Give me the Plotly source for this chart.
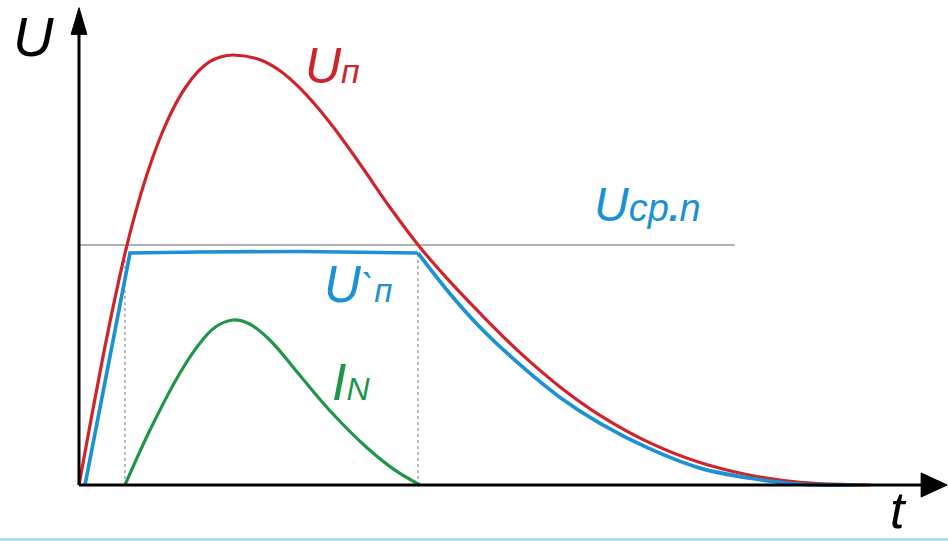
import plotly.graph_objects as go

# Overvoltage U_п (red): rise to the peak, then decay
t_up = [0.0, 0.15, 0.30, 0.45, 0.60, 0.75, 0.90, 1.05, 1.20, 1.35, 1.50, 1.65, 1.80, 1.95,
        2.291, 2.544, 2.797, 3.177, 3.557, 3.937, 4.316, 4.696, 5.076, 5.582, 6.089,
        6.595, 7.228, 7.861, 8.494, 9.127, 9.759, 10.013]
u_up = [0.0, 1.50, 2.95, 4.30, 5.52, 6.56, 7.44, 8.18, 8.78, 9.25, 9.60, 9.84, 9.96, 10.0,
        9.891, 9.635, 9.228, 8.426, 7.465, 6.453, 5.530, 4.728, 3.995, 3.077, 2.281,
        1.621, 0.979, 0.521, 0.228, 0.063, 0.009, 0.0]

# Limited voltage U`п (blue): ramp and plateau, then decay
t_ulim_flat = [0.076, 0.646, 1.532, 2.797, 4.291]
u_ulim_flat = [0.0, 5.395, 5.419, 5.430, 5.395]
t_ulim_fall = [4.291, 4.696, 5.076, 5.582, 6.089, 6.595, 7.228, 7.861, 8.494, 9.127, 9.823]
u_ulim_fall = [5.395, 4.449, 3.670, 2.798, 2.037, 1.435, 0.840, 0.393, 0.158, 0.021, 0.0]

# Current I_N (green)
t_in = [0.582, 0.899, 1.278, 1.532, 1.722, 1.949, 2.165, 2.418, 2.797, 3.177, 3.646, 4.0, 4.316]
i_in = [0.0, 1.279, 2.605, 3.302, 3.669, 3.837, 3.738, 3.366, 2.547, 1.727, 0.866, 0.345, 0.0]

# Threshold level U_ср.п
u_thr = 5.581
t_thr_end = 8.30

# Limiter switching moments (dotted markers)
t_on, t_off = 0.582, 4.291
u_plateau = 5.395

# Axis extents
t_axis_end = 11.0
u_axis_end = 11.1

RED = "rgb(206,36,44)"
BLUE = "rgb(28,146,212)"
GREEN = "rgb(32,150,72)"
GRAY = "rgb(150,150,150)"

fig = go.Figure()

# threshold line
fig.add_trace(go.Scatter(x=[0, t_thr_end], y=[u_thr, u_thr], mode="lines",
                         line=dict(color=GRAY, width=1.6), hoverinfo="skip"))
# dotted verticals
for tv in (t_on, t_off):
    fig.add_trace(go.Scatter(x=[tv, tv], y=[0, u_plateau], mode="lines",
                             line=dict(color="rgb(120,120,120)", width=1, dash="dot"),
                             hoverinfo="skip"))

fig.add_trace(go.Scatter(x=t_up, y=u_up, mode="lines",
                         line=dict(color=RED, width=3.2, shape="spline", smoothing=1.0)))
fig.add_trace(go.Scatter(x=t_ulim_flat, y=u_ulim_flat, mode="lines",
                         line=dict(color=BLUE, width=3.7)))
fig.add_trace(go.Scatter(x=t_ulim_fall, y=u_ulim_fall, mode="lines",
                         line=dict(color=BLUE, width=3.7, shape="spline", smoothing=1.0)))
fig.add_trace(go.Scatter(x=t_in, y=i_in, mode="lines",
                         line=dict(color=GREEN, width=3.2, shape="spline", smoothing=1.0)))

# axes with arrowheads
fig.add_trace(go.Scatter(x=[0, 0], y=[0, u_axis_end - 0.55], mode="lines",
                         line=dict(color="black", width=3), hoverinfo="skip"))
fig.add_trace(go.Scatter(x=[0, t_axis_end - 0.3], y=[0, 0], mode="lines",
                         line=dict(color="black", width=3), hoverinfo="skip"))
fig.add_trace(go.Scatter(x=[-0.1, 0, 0.1, -0.1],
                         y=[u_axis_end - 0.62, u_axis_end, u_axis_end - 0.62, u_axis_end - 0.62],
                         mode="lines", fill="toself", fillcolor="black",
                         line=dict(color="black", width=1), hoverinfo="skip"))
fig.add_trace(go.Scatter(x=[t_axis_end - 0.34, t_axis_end - 0.01, t_axis_end - 0.34, t_axis_end - 0.34],
                         y=[0.28, 0, -0.28, 0.28],
                         mode="lines", fill="toself", fillcolor="black",
                         line=dict(color="black", width=1), hoverinfo="skip"))

FONT = "Liberation Sans"


def label(x, y, text, color, size, yanchor="bottom"):
    fig.add_annotation(x=x, y=y, xref="x", yref="y", text=text, showarrow=False,
                       xanchor="left", yanchor=yanchor,
                       font=dict(family=FONT, size=size, color=color))


label(-0.86, 9.65, "<i>U</i>", "black", 56)
label(2.83, 9.05, "<i>U<span style='font-size:34px'>п</span></i>", RED, 50)
label(6.49, 5.85, "<i>U<span style='font-size:38px'>cp<b>.</b>n</span></i>", BLUE, 48)
label(3.08, 3.95, "<i>U<span style='font-size:40px'>`</span><span style='font-size:33px'>п</span></i>", BLUE, 51)
label(3.18, 1.67, "<i>I<span style='font-size:32px'>N</span></i>", GREEN, 52)

# time-axis name, sitting on the bottom edge
fig.add_annotation(x=10.24, y=0, xref="x", yref="paper", text="<i>t</i>", showarrow=False,
                   xanchor="left", yanchor="bottom",
                   font=dict(family=FONT, size=52, color="black"))

# thin cyan rule along the bottom edge
fig.add_shape(type="line", xref="paper", yref="paper", x0=0, x1=1, y0=0.003, y1=0.003,
              line=dict(color="rgb(172,226,238)", width=3))

fig.update_layout(
    width=948, height=541,
    margin=dict(l=0, r=0, t=0, b=0),
    paper_bgcolor="white", plot_bgcolor="white",
    showlegend=False,
    xaxis=dict(range=[-1, 11], visible=False, fixedrange=True),
    yaxis=dict(range=[-1.3023, 11.2791], visible=False, fixedrange=True),
)

fig.write_html("out.html")
